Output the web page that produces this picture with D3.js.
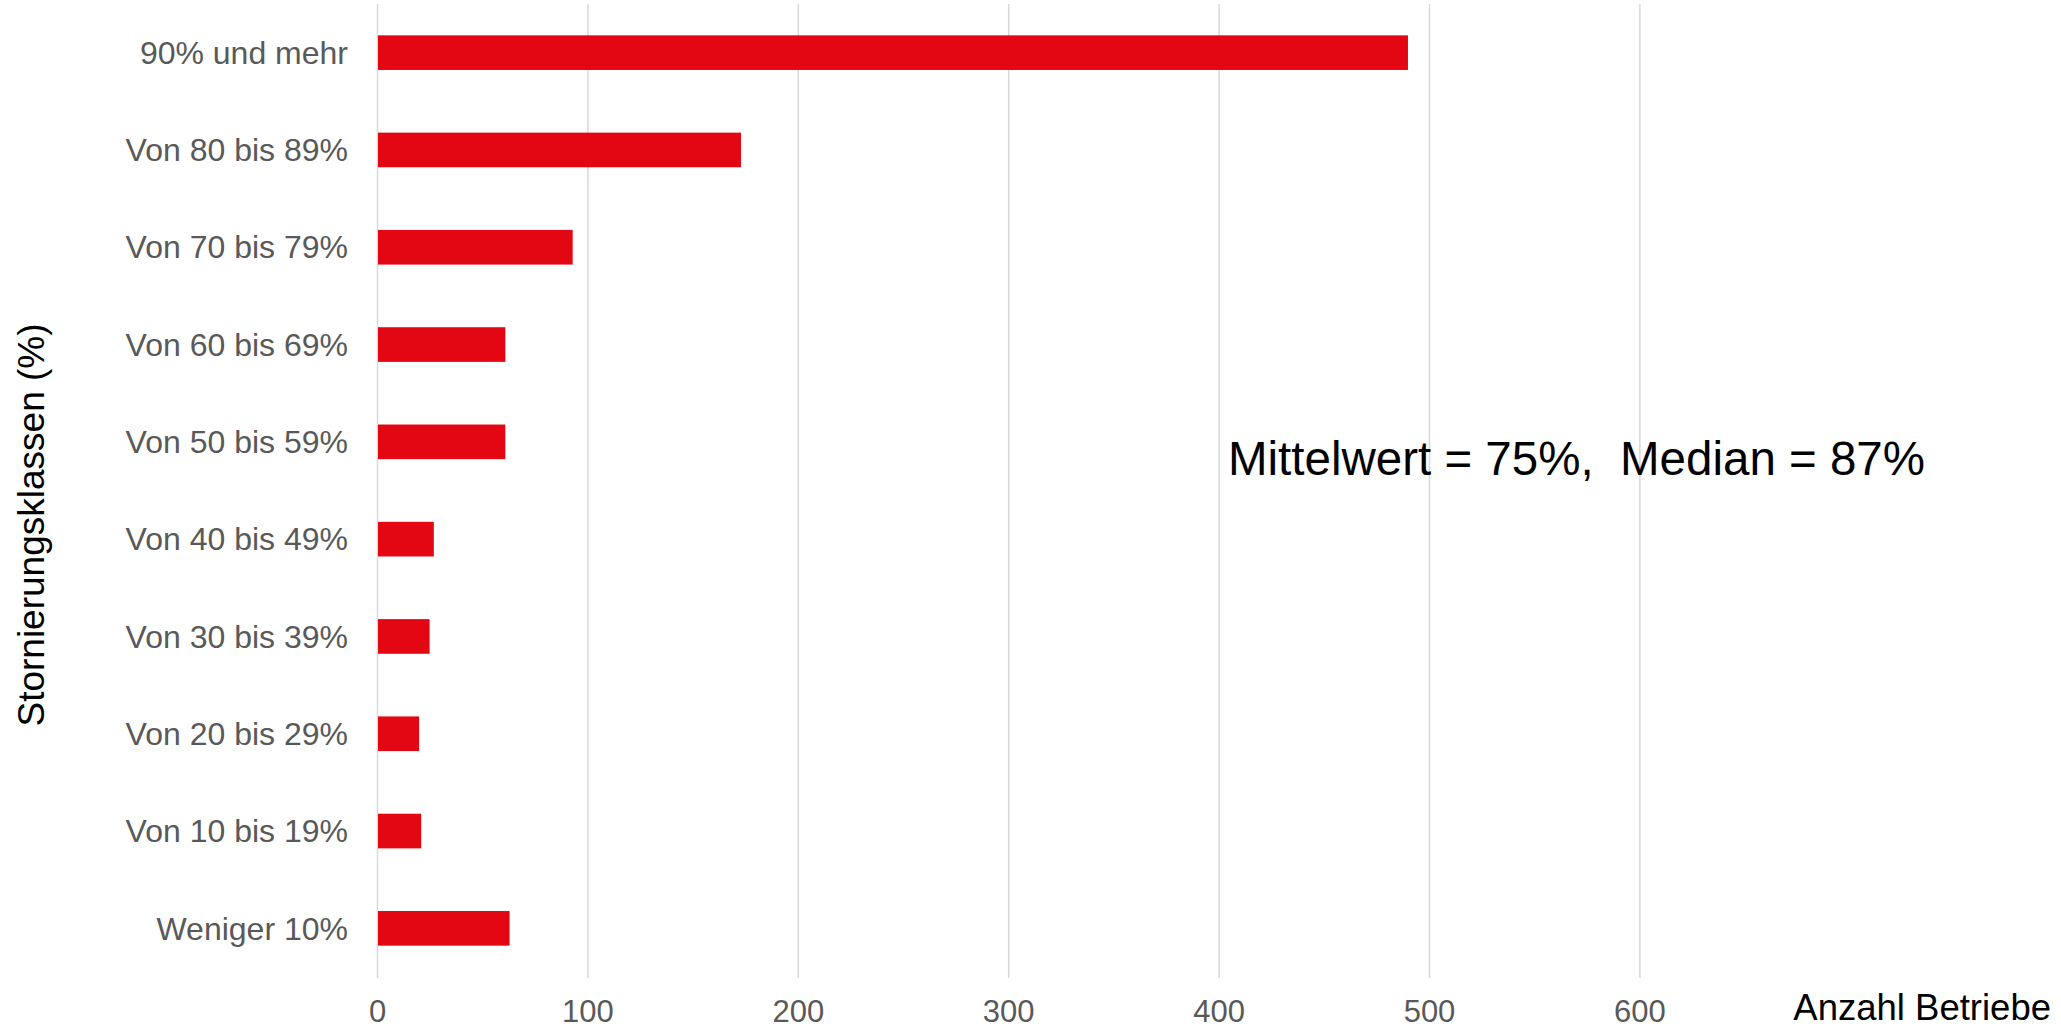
<!DOCTYPE html>
<html>
<head>
<meta charset="utf-8">
<script src="https://cdn.jsdelivr.net/npm/d3@7"></script>
<style>
  html, body { margin: 0; padding: 0; background: #ffffff; }
  svg { display: block; font-family: "Liberation Sans", Arial, sans-serif; }
</style>
</head>
<body>
<svg id="chart" width="2061" height="1030"></svg>
<script>
const categories = [
  "90% und mehr",
  "Von 80 bis 89%",
  "Von 70 bis 79%",
  "Von 60 bis 69%",
  "Von 50 bis 59%",
  "Von 40 bis 49%",
  "Von 30 bis 39%",
  "Von 20 bis 29%",
  "Von 10 bis 19%",
  "Weniger 10%"
];
const values = [490, 173, 93, 61, 61, 27, 25, 20, 21, 63];
const xTicks = [0, 100, 200, 300, 400, 500, 600];
const xTitle = "Anzahl Betriebe";
const yTitle = "Stornierungsklassen (%)";
const annotation = "Mittelwert = 75%,\u00a0\u00a0Median = 87%";

const svg = d3.select("#chart");

const x = d3.scaleLinear().domain([0, 600]).range([377, 1639.4]);
const y = d3.scaleBand().domain(categories).range([4, 977])
  .paddingInner(0.644).paddingOuter(0.322);

const gridTop = 4, gridBottom = 978;

// gridlines (including axis line at 0)
const xAxis = d3.axisBottom(x).tickValues(xTicks).tickSize(-(gridBottom - gridTop)).tickPadding(0);
const gx = svg.append("g").attr("transform", `translate(0,${gridBottom})`).call(xAxis);
gx.select(".domain").remove();
gx.selectAll(".tick line").attr("stroke", "#d9d9d9").attr("stroke-width", 1.5);
gx.selectAll(".tick text")
  .attr("fill", "#595959")
  .attr("font-size", 31)
  .attr("dy", null)
  .attr("y", 44)
  .style("font-family", "'Liberation Sans', Arial, sans-serif");

// bars
svg.append("g").selectAll("rect")
  .data(values)
  .join("rect")
  .attr("x", x(0) + 1)
  .attr("y", (d, i) => y(categories[i]))
  .attr("width", d => x(d) - x(0) - 1)
  .attr("height", y.bandwidth())
  .attr("fill", "#e30613");

// y axis labels
const yAxis = d3.axisLeft(y).tickSize(0).tickPadding(29);
const gy = svg.append("g").attr("transform", `translate(${x(0)},0)`).call(yAxis);
gy.select(".domain").remove();
gy.selectAll(".tick text")
  .attr("fill", "#595959")
  .attr("font-size", 32)
  .attr("dy", "0.35em")
  .style("font-family", "'Liberation Sans', Arial, sans-serif");

// axis titles
svg.append("text")
  .attr("x", 2051).attr("y", 1020)
  .attr("text-anchor", "end")
  .attr("font-size", 36.5)
  .attr("fill", "#000")
  .text(xTitle);

svg.append("text")
  .attr("transform", "translate(44,525) rotate(-90)")
  .attr("text-anchor", "middle")
  .attr("font-size", 37)
  .attr("fill", "#000")
  .text(yTitle);

// annotation
svg.append("text")
  .attr("x", 1228).attr("y", 475)
  .attr("font-size", 47.5)
  .attr("fill", "#000")
  .text(annotation);
</script>
</body>
</html>
